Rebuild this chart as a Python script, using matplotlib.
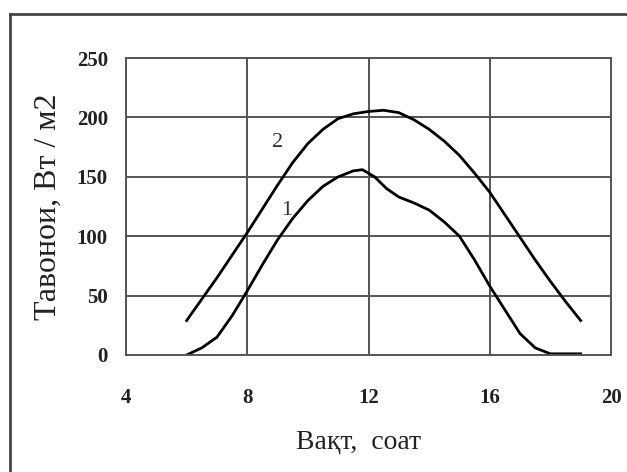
import matplotlib.pyplot as plt
from matplotlib.lines import Line2D

# data
hours_1 = [6.0, 6.5, 7.0, 7.5, 8.0, 8.5, 9.0, 9.5, 10.0, 10.5, 11.0, 11.5, 11.8,
           12.2, 12.6, 13.0, 13.5, 14.0, 14.5, 15.0, 15.5, 16.0, 16.5, 17.0,
           17.5, 18.0, 18.5, 19.0]
power_1 = [0, 6, 15, 33, 54, 76, 97, 115, 130, 142, 150, 155, 156,
           150, 140, 133, 128, 122, 112, 100, 80, 58, 38, 18,
           6, 1, 1, 1]
hours_2 = [6, 6.5, 7, 7.5, 8, 8.5, 9, 9.5, 10, 10.5, 11, 11.5, 12, 12.5, 13,
           13.5, 14, 14.5, 15, 15.5, 16, 16.5, 17, 17.5, 18, 18.5, 19]
power_2 = [29, 47, 65, 84, 103, 123, 143, 162, 178, 190, 199, 203, 205, 206, 204,
           198, 190, 180, 168, 153, 137, 118, 99, 80, 62, 45, 29]
xticks = [4, 8, 12, 16, 20]
yticks = [0, 50, 100, 150, 200, 250]

plt.rcParams['font.family'] = ['Liberation Serif', 'DejaVu Serif']

fig = plt.figure(figsize=(6.27, 4.72), dpi=100)
ax = fig.add_axes([126 / 627, 1 - 355 / 472, 485 / 627, 297 / 472])

ax.plot(hours_1, power_1, color='black', lw=2)
ax.plot(hours_2, power_2, color='black', lw=2)
ax.text(9.0, 179, '2', fontsize=16, ha='center', va='center', color='#333333')
ax.text(9.3, 122, '1', fontsize=16, ha='center', va='center', color='#333333')

ax.set_xlim(4, 20)
ax.set_ylim(0, 250)
ax.set_xticks(xticks)
ax.set_yticks(yticks)
ax.grid(True, color='#555555', lw=1.4)
for s in ax.spines.values():
    s.set_color('#555555')
    s.set_linewidth(1.4)
ax.tick_params(axis='x', length=0, pad=24, labelsize=15, colors='#222222')
ax.tick_params(axis='y', length=0, pad=13, labelsize=15, colors='#222222')
for lab in ax.get_xticklabels() + ax.get_yticklabels():
    lab.set_fontweight('bold')

ax.set_xlabel('Вақт,  соат', fontsize=20, color='#222222')
ax.xaxis.set_label_coords(0.48, -0.25)
ax.set_ylabel('Тавонои, Вт / м2', fontsize=23, labelpad=10, color='#222222')

# outer frame
fig.add_artist(Line2D([10 / 627, 10 / 627], [0, 1 - 14 / 472], color='#444444', lw=2))
fig.add_artist(Line2D([10 / 627, 1], [1 - 14 / 472, 1 - 14 / 472], color='#444444', lw=2))

fig.savefig('out.png', dpi=100)
